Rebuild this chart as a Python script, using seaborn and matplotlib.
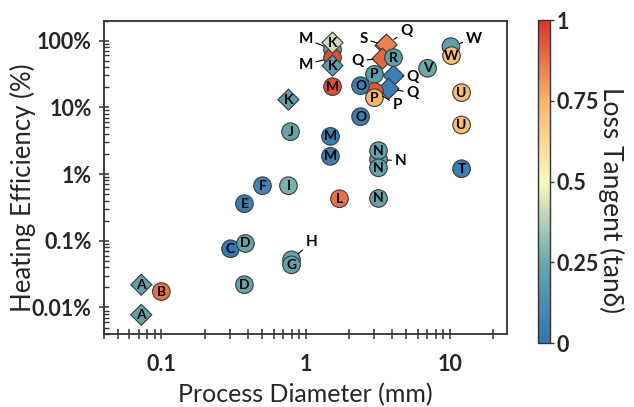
import numpy as np
import pandas as pd
import matplotlib
matplotlib.use("Agg")
import matplotlib.pyplot as plt
import seaborn as sns
from matplotlib.colors import LinearSegmentedColormap, Normalize
from matplotlib.ticker import FixedLocator, FixedFormatter, LogLocator, NullFormatter

# ---------------- data (draw order: later rows on top) ----------------
names = ["A", "A", "B", "C", "D", "D", "E", "F", "I", "J",
         "K", "H", "G", "M", "M", "L", "N", "N", "N", "N",
         "O", "T", "U", "U", "S", "Q", "Q", "Q", "Q", "M",
         "M", "K", "K", "M", "R", "P", "P", "O", "P", "V",
         "W", "W"]
diameter_mm = [0.0726, 0.0726, 0.100, 0.302, 0.383, 0.377, 0.377, 0.503, 0.762, 0.787,
               0.762, 0.800, 0.800, 1.49, 1.49, 1.72, 3.21, 3.21, 3.21, 3.21,
               2.41, 12.1, 12.1, 12.1, 3.59, 3.65, 3.42, 4.08, 3.77, 1.54,
               1.54, 1.54, 1.54, 1.54, 4.08, 3.01, 3.01, 2.41, 3.01, 7.03,
               10.2, 10.3]
efficiency_pct = [0.0219, 0.00776, 0.0173, 0.0758, 0.091, 0.0219, 0.359, 0.668, 0.668, 4.31,
                  13.0, 0.0518, 0.0436, 3.66, 1.84, 0.426, 1.64, 2.24, 1.24, 0.43,
                  7.23, 1.20, 5.43, 16.6, 84.0, 87.0, 53.6, 29.8, 19.0, 73.1,
                  55.5, 93.2, 42.1, 20.4, 55.5, 31.2, 17.2, 21.1, 13.9, 38.4,
                  81.2, 59.5]
loss_tangent = [0.22, 0.22, 0.88, 0.03, 0.22, 0.22, 0.05, 0.08, 0.28, 0.22,
                0.20, 0.22, 0.22, 0.05, 0.05, 0.88, 0.22, 0.22, 0.22, 0.22,
                0.05, 0.05, 0.72, 0.72, 0.85, 0.85, 0.90, 0.05, 0.05, 0.22,
                0.95, 0.42, 0.20, 0.95, 0.20, 0.20, 0.93, 0.05, 0.75, 0.25,
                0.20, 0.72]
form = ["film", "film", "particle", "particle", "particle", "particle", "particle", "particle", "particle", "particle",
        "film", "particle", "particle", "particle", "particle", "particle", "particle", "particle", "particle", "particle",
        "particle", "particle", "particle", "particle", "film", "film", "film", "film", "film", "particle",
        "particle", "film", "film", "particle", "particle", "particle", "particle", "particle", "particle", "particle",
        "particle", "particle"]

x_ticks = [0.1, 1, 10]
x_ticklabels = ["0.1", "1", "10"]
y_ticks = [0.01, 0.1, 1, 10, 100]
y_ticklabels = ["0.01%", "0.1%", "1%", "10%", "100%"]
cb_ticks = [0, 0.25, 0.5, 0.75, 1]
cb_ticklabels = ["0", "0.25", "0.5", "0.75", "1"]

# ---------------- layout: callout label offsets (points) ----------------
callouts = {11: (14.4, 13.0), 16: (15.8, -0.7), 24: (-15.8, 5.0), 25: (14.4, 10.0),
            26: (-18.0, -1.4), 27: (13.7, -0.7), 28: (17.3, -2.9), 29: (-19.4, 7.9),
            30: (-19.4, -5.0), 36: (16.6, -9.4), 40: (16.6, 5.8)}

df = pd.DataFrame({"name": names, "diameter": diameter_mm, "eff": efficiency_pct,
                   "tan": loss_tangent, "form": form})

sns.set_style("ticks")
plt.rcParams["font.family"] = ["Lato", "DejaVu Sans"]

cmap = LinearSegmentedColormap.from_list(
    "loss", [(0.0, "#2f74b5"), (0.25, "#6aa8aa"), (0.5, "#fbf8c2"),
             (0.75, "#f9b56c"), (1.0, "#d8352a")])
norm = Normalize(0, 1)

fig = plt.figure(figsize=(6.34, 4.07), dpi=100)
ax = fig.add_axes([104 / 634, 1 - 334 / 407, (507 - 104) / 634, (334 - 20.5) / 407])

sns.scatterplot(data=df, x="diameter", y="eff", hue="tan", palette=cmap, hue_norm=norm,
                style="form", markers={"particle": "o", "film": "D"}, s=150,
                edgecolor="#3a3a3a", linewidth=0.8, legend=False, ax=ax, zorder=3)
coll = ax.collections[0]
coll.set_sizes(np.where(df["form"] == "film", 115, 160))

ax.set_xscale("log")
ax.set_yscale("log")
ax.set_xlim(0.04, 25)
ax.set_ylim(0.004, 200)

for i, row in df.iterrows():
    if i in callouts:
        ax.annotate(row["name"], xy=(row["diameter"], row["eff"]), xytext=callouts[i],
                    textcoords="offset points", ha="center", va="center",
                    fontsize=11, fontweight="bold", color="black", zorder=5,
                    arrowprops=dict(arrowstyle="-", color="black", lw=0.8,
                                    shrinkA=0, shrinkB=6.5))
    else:
        ax.text(row["diameter"], row["eff"], row["name"], ha="center", va="center",
                fontsize=10, fontweight="bold", color="black", zorder=4 + i * 0.001)

ax.xaxis.set_major_locator(FixedLocator(x_ticks))
ax.xaxis.set_major_formatter(FixedFormatter(x_ticklabels))
ax.xaxis.set_minor_locator(LogLocator(base=10, subs=np.arange(2, 10)))
ax.xaxis.set_minor_formatter(NullFormatter())
ax.yaxis.set_major_locator(FixedLocator(y_ticks))
ax.yaxis.set_major_formatter(FixedFormatter(y_ticklabels))
ax.yaxis.set_minor_locator(LogLocator(base=10, subs=np.arange(2, 10)))
ax.yaxis.set_minor_formatter(NullFormatter())

ax.tick_params(axis="x", which="both", direction="inout", length=6.5, width=1.1,
               color="#333333", labelsize=15.5, pad=11)
ax.tick_params(axis="y", which="major", direction="inout", length=7.5, width=1.1,
               color="#333333", labelsize=15.5, pad=5)
ax.tick_params(axis="y", which="minor", direction="in", length=3.5, width=1.0,
               color="#333333")
for lab in ax.get_xticklabels() + ax.get_yticklabels():
    lab.set_fontweight("bold")
for sp in ax.spines.values():
    sp.set_visible(True)
    sp.set_color("#333333")
    sp.set_linewidth(1.3)

ax.set_xlabel("Process Diameter (mm)", fontsize=18, labelpad=6)
ax.set_ylabel("Heating Efficiency (%)", fontsize=18.5)
ax.yaxis.set_label_coords(-0.168, 0.466)

cax = fig.add_axes([538 / 634, 1 - 343 / 407, 12 / 634, (343 - 20) / 407])
sm = plt.cm.ScalarMappable(norm=norm, cmap=cmap)
cb = fig.colorbar(sm, cax=cax)
cb.set_ticks(cb_ticks)
cb.set_ticklabels(cb_ticklabels)
cb.outline.set_edgecolor("#333333")
cb.outline.set_linewidth(1.0)
cax.tick_params(labelsize=15.5, length=3, width=1.0, color="#333333", pad=2)
for lab in cax.get_yticklabels():
    lab.set_fontweight("bold")
cb.set_label("Loss Tangent (tanδ)", fontsize=19, rotation=270, va="center")
cax.yaxis.set_label_coords((611 - 538) / 12, 1 - (200 - 20) / 323)
cax.yaxis.label.set_transform(cax.transAxes)

fig.savefig("out.png", dpi=100)
